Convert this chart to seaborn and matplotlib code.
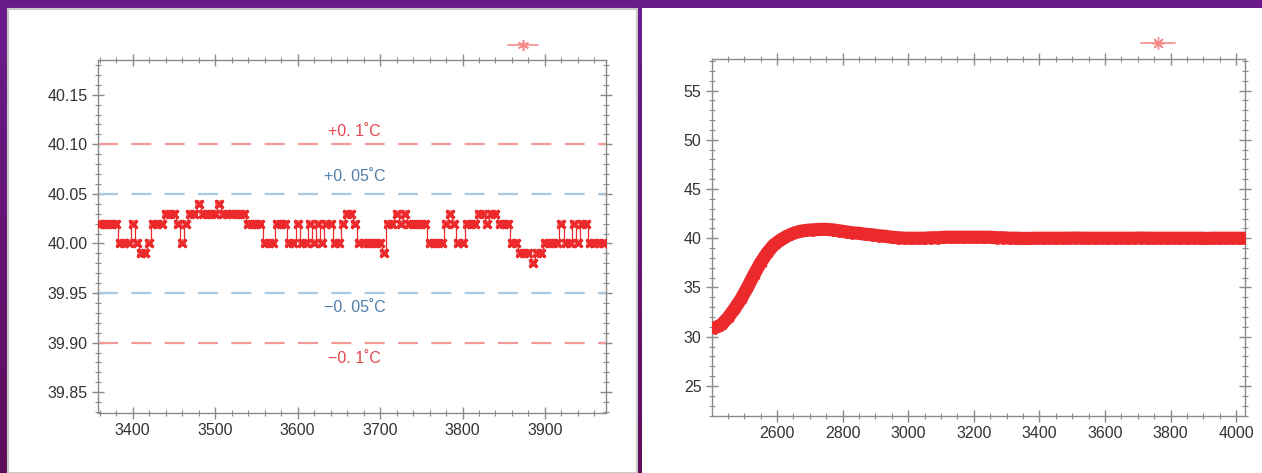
import numpy as np
import pandas as pd
import matplotlib
matplotlib.use("Agg")
import matplotlib.pyplot as plt
import seaborn as sns
from matplotlib.patches import Rectangle
from matplotlib.lines import Line2D
from matplotlib.ticker import MultipleLocator, FormatStrFormatter
from matplotlib.colors import LinearSegmentedColormap

# ---------------- data ----------------
# left panel: temperature stability around 40.00 (offsets in 0.01 degC)
time_left = np.arange(3360, 3975, 5)
offset_left_hundredths = [
    2, 2, 2, 2, 2, 0, 0, 0, 2, 0, -1, -1, 0, 2, 2, 2, 3, 3, 3, 2,
    0, 2, 3, 3, 4, 3, 3, 3, 3, 4, 3, 3, 3, 3, 3, 3, 2, 2, 2, 2,
    0, 0, 0, 2, 2, 2, 0, 0, 2, 0, 0, 2, 0, 2, 0, 2, 2, 0, 0, 2,
    3, 3, 2, 0, 0, 0, 0, 0, 0, -1, 2, 2, 3, 2, 3, 2, 2, 2, 2, 2,
    0, 0, 0, 0, 2, 3, 2, 0, 0, 2, 2, 2, 3, 3, 2, 3, 3, 2, 2, 2,
    0, 0, -1, -1, -1, -2, -1, -1, 0, 0, 0, 0, 2, 0, 0, 2, 0, 2, 2, 0,
    0, 0, 0,
]
temp_left = 40 + np.array(offset_left_hundredths) / 100.0

# right panel: heating response
time_right = np.arange(2410, 4031, 20)
temp_right = [
    30.9, 31.2, 31.9, 32.8, 33.8, 35.0, 36.3, 37.5, 38.5, 39.3,
    39.8, 40.2, 40.5, 40.7, 40.8, 40.85, 40.9, 40.9, 40.85, 40.75,
    40.65, 40.55, 40.5, 40.4, 40.35, 40.25, 40.2, 40.1, 40.05, 40.0,
    40.0, 40.0, 40.0, 40.05, 40.05, 40.1, 40.1, 40.1, 40.1, 40.1,
    40.1, 40.1, 40.1, 40.05, 40.05, 40.0, 40.0, 39.98, 39.98, 40.0,
    40.0, 40.0, 40.0, 40.0, 40.0, 40.02, 40.0, 40.0, 40.0, 40.0,
    40.0, 40.0, 40.0, 40.0, 40.0, 40.02, 40.0, 40.0, 40.0, 40.0,
    40.0, 40.0, 40.0, 40.0, 40.0, 39.98, 40.0, 40.0, 40.0, 40.0,
    40.0, 40.0,
]

band_levels = [40.10, 40.05, 39.95, 39.90]
band_labels = ["+0. 1˚C", "+0. 05˚C", "−0. 05˚C", "−0. 1˚C"]
band_label_y = [40.113, 40.068, 39.935, 39.884]
band_line_colors = ["#f29a9a", "#a9c8e2", "#a9c8e2", "#f29a9a"]
band_text_colors = ["#e2474f", "#4f7fa9", "#4f7fa9", "#e2474f"]

left_xticks = [3400, 3500, 3600, 3700, 3800, 3900]
left_yticks = [39.85, 39.90, 39.95, 40.00, 40.05, 40.10, 40.15]
right_xticks = [2600, 2800, 3000, 3200, 3400, 3600, 3800, 4000]
right_yticks = [25, 30, 35, 40, 45, 50, 55]

# ---------------- style ----------------
sns.set_style("ticks")
plt.rcParams['font.family'] = ['Liberation Sans', 'DejaVu Sans']

W, H = 1262, 473
fig = plt.figure(figsize=(W / 100, H / 100), dpi=100)

# purple gradient background
bg = fig.add_axes([0, 0, 1, 1], zorder=-10)
grad = np.linspace(0, 1, 256).reshape(-1, 1)
cmap = LinearSegmentedColormap.from_list("bgp", ["#6a1c8c", "#5e0d5a"])
bg.imshow(grad, aspect='auto', cmap=cmap, extent=[0, 1, 0, 1], origin='upper')
bg.set_axis_off()

# white panels
fig.patches.append(Rectangle((8 / W, 0), (637 - 8) / W, (H - 9) / H,
                             transform=fig.transFigure, facecolor='white',
                             edgecolor='#c9c9c9', lw=1.5, zorder=-5))
fig.patches.append(Rectangle((642 / W, 0), (W - 642) / W, (H - 8) / H,
                             transform=fig.transFigure, facecolor='white',
                             edgecolor='none', lw=0, zorder=-5))

red = "#ec2a2c"
spine_col = "#8a8a8a"
tick_col = "#333333"


def style_axes(ax, xmaj, xmin, ymaj, ymin, xticks, yticks):
    ax.set_facecolor('white')
    for s in ax.spines.values():
        s.set_color(spine_col)
        s.set_linewidth(1.0)
        s.set_visible(True)
    ax.set_xticks(xticks)
    ax.set_yticks(yticks)
    ax.xaxis.set_minor_locator(MultipleLocator(xmin))
    ax.yaxis.set_minor_locator(MultipleLocator(ymin))
    ax.tick_params(which='major', direction='inout', length=8, width=1,
                   color=spine_col, labelsize=11.5, labelcolor=tick_col,
                   top=True, right=True)
    ax.tick_params(which='minor', direction='inout', length=4, width=0.8,
                   color=spine_col, top=True, right=True)
    ax.set_xlabel('')
    ax.set_ylabel('')


# ---------------- left panel ----------------
axL = fig.add_axes([98 / W, 1 - 413 / H, (606 - 98) / W, (413 - 60) / H])
for lvl, lc in zip(band_levels, band_line_colors):
    axL.axhline(lvl, color=lc, lw=1.6, dashes=(9, 6), zorder=1)
for txt, ty, tc in zip(band_labels, band_label_y, band_text_colors):
    axL.text(3669, ty, txt, ha='center', va='center', color=tc, fontsize=11.5)

dfL = pd.DataFrame({"time": time_left, "temp": temp_left})
sns.lineplot(data=dfL, x="time", y="temp", ax=axL, estimator=None,
             color=red, lw=0.9, marker=(4, 2, 45), markersize=8,
             markeredgewidth=2.0, markeredgecolor=red, drawstyle='steps-mid',
             zorder=3)
sns.scatterplot(data=dfL, x="time", y="temp", ax=axL, color=red,
                marker='s', s=28, linewidth=0, alpha=0.55, zorder=2)
axL.set_xlim(3358, 3974)
axL.set_ylim(39.829, 40.185)
style_axes(axL, 100, 20, 0.05, 0.01, left_xticks, left_yticks)
axL.yaxis.set_major_formatter(FormatStrFormatter('%.2f'))
axL.legend([Line2D([], [], color='#f38b8b', lw=1.2, marker=(6, 2, 0),
                   markersize=8, markeredgewidth=1.2)], [''],
           frameon=False, loc='center', bbox_to_anchor=(523 / W, 1 - 46 / H),
           bbox_transform=fig.transFigure, handlelength=2.2,
           handletextpad=0, borderpad=0, borderaxespad=0)

# ---------------- right panel ----------------
axR = fig.add_axes([712 / W, 1 - 416 / H, (1245 - 712) / W, (416 - 59) / H])
dfR = pd.DataFrame({"time": time_right, "temp": temp_right})
sns.lineplot(data=dfR, x="time", y="temp", ax=axR, estimator=None,
             color=red, lw=9.5, marker=(6, 2, 0), markersize=9,
             markeredgewidth=1.5, markeredgecolor=red, zorder=3)
axR.set_xlim(2402, 4027)
axR.set_ylim(21.95, 58.2)
style_axes(axR, 200, 50, 5, 1, right_xticks, right_yticks)
axR.legend([Line2D([], [], color='#f38b8b', lw=1.2, marker=(8, 2, 0),
                   markersize=9, markeredgewidth=1.0)], [''],
           frameon=False, loc='center', bbox_to_anchor=(1158 / W, 1 - 44 / H),
           bbox_transform=fig.transFigure, handlelength=2.4,
           handletextpad=0, borderpad=0, borderaxespad=0)

fig.savefig("out.png", dpi=100, facecolor=fig.get_facecolor())
